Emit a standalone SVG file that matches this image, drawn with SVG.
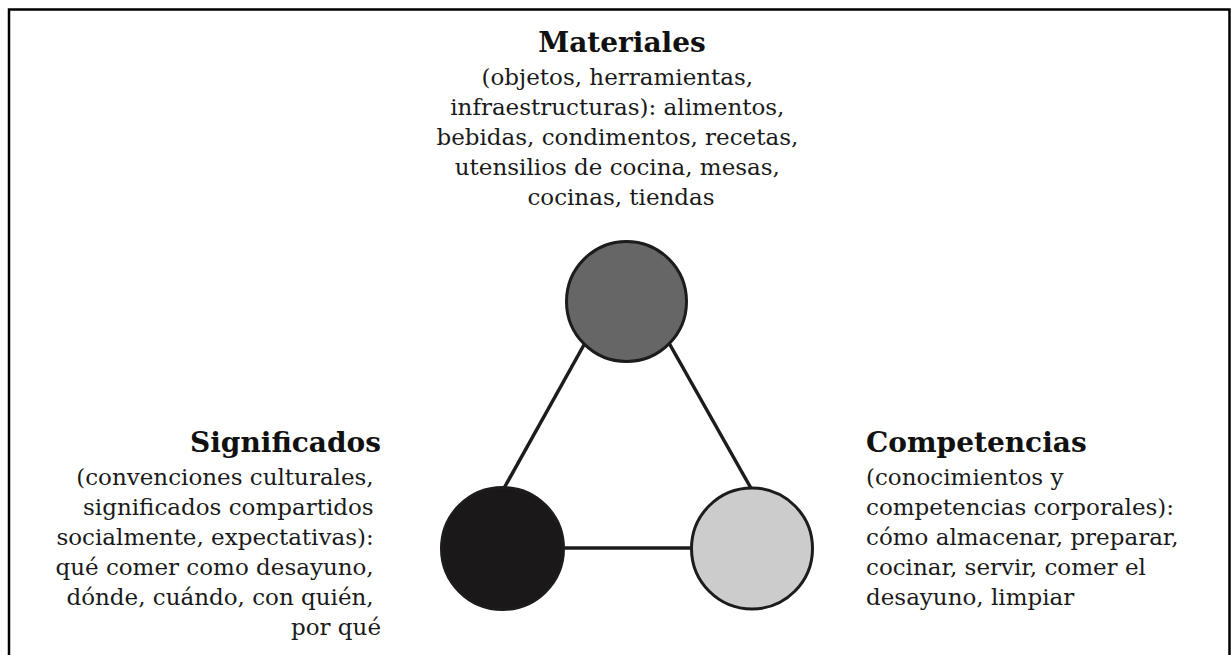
<svg xmlns="http://www.w3.org/2000/svg" width="1231" height="655" viewBox="0 0 1231 655">
<style>
.t{font-family:"DejaVu Serif","Liberation Serif",serif;font-size:23px;fill:#1a1a1a}
.h{font-family:"DejaVu Serif","Liberation Serif",serif;font-size:28px;font-weight:bold;fill:#111}
.c{stroke:#1c1c1c;stroke-width:3}
.e{stroke:#1c1c1c;stroke-width:3.5;fill:none}
</style>
<rect width="1231" height="655" fill="#fff"/>
<g id="frame" fill="none" stroke="#000" stroke-width="2.5">
<path d="M9,656 V9.5 H1229.5 V656"/>
</g>
<g id="connectors">
<line class="e" x1="585" y1="343" x2="503" y2="490"/>
<line class="e" x1="669" y1="343" x2="752" y2="490"/>
<line class="e" x1="560" y1="548" x2="695" y2="548"/>
</g>
<g id="materiales">
<circle class="c" cx="626.5" cy="301.5" r="60" fill="#666666"/>
<text class="h" x="622" y="52" text-anchor="middle">Materiales</text>
<text class="t" text-anchor="middle">
<tspan x="621" y="85">(objetos, herramientas,</tspan>
<tspan x="621" y="115">infraestructuras): alimentos,</tspan>
<tspan x="621" y="145">bebidas, condimentos, recetas,</tspan>
<tspan x="621" y="175">utensilios de cocina, mesas,</tspan>
<tspan x="621" y="205">cocinas, tiendas</tspan>
</text>
</g>
<g id="significados">
<circle class="c" cx="502.5" cy="548.5" r="61" fill="#1a1818"/>
<text class="h" x="381" y="452" text-anchor="end">Significados</text>
<text class="t" text-anchor="end">
<tspan x="381" y="485">(convenciones culturales,</tspan>
<tspan x="381" y="515">significados compartidos</tspan>
<tspan x="381" y="545">socialmente, expectativas):</tspan>
<tspan x="381" y="575">qué comer como desayuno,</tspan>
<tspan x="381" y="605">dónde, cuándo, con quién,</tspan>
<tspan x="381" y="635">por qué</tspan>
</text>
</g>
<g id="competencias">
<circle class="c" cx="752" cy="548.5" r="60.5" fill="#cccccc"/>
<text class="h" x="866" y="452">Competencias</text>
<text class="t">
<tspan x="866" y="485">(conocimientos y</tspan>
<tspan x="866" y="515">competencias corporales):</tspan>
<tspan x="866" y="545">cómo almacenar, preparar,</tspan>
<tspan x="866" y="575">cocinar, servir, comer el</tspan>
<tspan x="866" y="605">desayuno, limpiar</tspan>
</text>
</g>
</svg>
